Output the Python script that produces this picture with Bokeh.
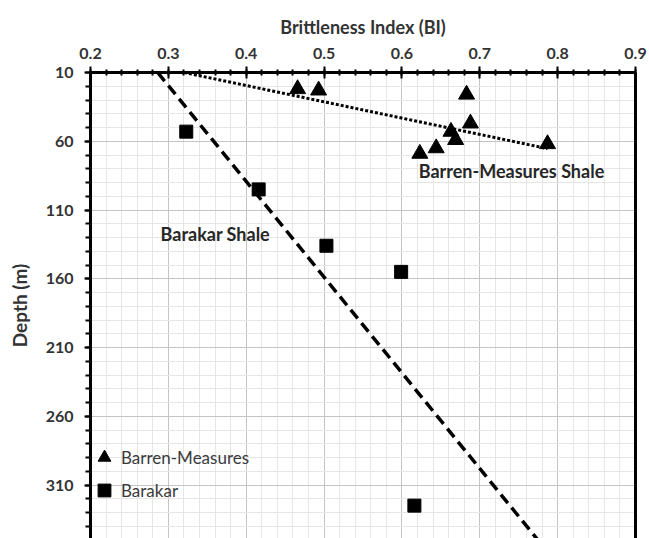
import numpy as np
from bokeh.plotting import figure
from bokeh.models import (Range1d, LinearAxis, FixedTicker, Legend, LegendItem, Label)
from bokeh.embed import file_html
from bokeh.resources import INLINE

# ---- data ----
barren_bi = [0.466, 0.493, 0.683, 0.688, 0.663, 0.669, 0.623, 0.644, 0.787]
barren_depth = [22, 23, 26, 47, 53, 59, 69, 65, 62]

barakar_bi = [0.323, 0.416, 0.503, 0.599, 0.616]
barakar_depth = [53, 95, 136, 155, 325]

x_ticks = [0.2, 0.3, 0.4, 0.5, 0.6, 0.7, 0.8, 0.9]
x_minor = [round(0.2 + 0.02 * i, 2) for i in range(36)]
y_ticks = [10, 60, 110, 160, 210, 260, 310]
y_minor = list(range(10, 360, 10))

FONT = "Lato"
TXT = "#333333"

p = figure(width=649, height=538, output_backend="svg", toolbar_location=None,
           x_range=Range1d(0.2, 0.9), y_range=Range1d(348.9, 10),
           x_axis_location="above",
           min_border_left=90, min_border_right=14, min_border_top=72, min_border_bottom=0)
p.outline_line_color = None
p.background_fill_color = "white"

# top x axis
xa = p.xaxis[0]
xa.ticker = FixedTicker(ticks=x_ticks, minor_ticks=x_minor)
xa.axis_label = "Brittleness Index (BI)"
xa.axis_label_text_font = FONT
xa.axis_label_text_font_style = "bold"
xa.axis_label_text_font_size = "18px"
xa.axis_label_text_color = TXT
xa.axis_label_standoff = 7
xa.major_label_text_font = FONT
xa.major_label_text_font_style = "bold"
xa.major_label_text_font_size = "16px"
xa.major_label_text_color = TXT
xa.major_label_standoff = 8
xa.axis_line_width = 3
xa.axis_line_color = "black"
xa.major_tick_in = 6
xa.major_tick_out = 6
xa.minor_tick_in = 3
xa.minor_tick_out = 3
xa.major_tick_line_width = 2
xa.minor_tick_line_width = 2

# left y axis
ya = p.yaxis[0]
ya.ticker = FixedTicker(ticks=y_ticks, minor_ticks=y_minor)
ya.axis_label = "Depth (m)"
ya.axis_label_text_font = FONT
ya.axis_label_text_font_style = "bold"
ya.axis_label_text_font_size = "19px"
ya.axis_label_text_color = TXT
ya.axis_label_standoff = 12
ya.major_label_text_font = FONT
ya.major_label_text_font_style = "bold"
ya.major_label_text_font_size = "16px"
ya.major_label_text_color = TXT
ya.major_label_standoff = 11
ya.axis_line_width = 3
ya.axis_line_color = "black"
ya.major_tick_in = 0
ya.major_tick_out = 6
ya.minor_tick_in = 0
ya.minor_tick_out = 5
ya.major_tick_line_width = 2
ya.minor_tick_line_width = 2

# right border as an empty axis
ra = LinearAxis(ticker=FixedTicker(ticks=[]), axis_line_width=3, axis_line_color="black",
                major_tick_out=0, major_tick_in=0, minor_tick_out=0, minor_tick_in=0,
                major_label_standoff=0)
p.add_layout(ra, "right")

# grids
p.xgrid.ticker = FixedTicker(ticks=x_ticks, minor_ticks=x_minor)
p.ygrid.ticker = FixedTicker(ticks=y_ticks, minor_ticks=y_minor)
for g in (p.xgrid[0], p.ygrid[0]):
    g.grid_line_color = "#c4c4c4"
    g.grid_line_width = 1
    g.minor_grid_line_color = "#e6e6e6"
    g.minor_grid_line_width = 1

# trend lines (least squares of depth on BI, as in the source chart)
a1, b1 = np.polyfit(barakar_bi, barakar_depth, 1)
bk_line_depth = [10, 360]
bk_line_bi = [(d - b1) / a1 for d in bk_line_depth]
p.line(bk_line_bi, bk_line_depth, line_color="black", line_width=3.5, line_dash="11 6")

a2, b2 = np.polyfit(barren_bi, barren_depth, 1)
bm_line_bi = [(10 - b2) / a2, max(barren_bi)]
bm_line_depth = [a2 * x + b2 for x in bm_line_bi]
p.line(bm_line_bi, bm_line_depth, line_color="black", line_width=3, line_dash="3 2")

# points
r1 = p.scatter(barren_bi, barren_depth, marker="triangle", size=16,
               fill_color="black", line_color="black")
r2 = p.scatter(barakar_bi, barakar_depth, marker="square", size=13,
               fill_color="black", line_color="black")

legend = Legend(items=[LegendItem(label="Barren-Measures", renderers=[r1]),
                       LegendItem(label="Barakar", renderers=[r2])],
                location=(-3, 32), glyph_width=34, glyph_height=32, spacing=1,
                label_standoff=-12, padding=0, margin=0,
                border_line_color=None, background_fill_alpha=0,
                label_text_font=FONT, label_text_font_size="17px",
                label_text_color="#3a3a3a")
p.add_layout(legend)

p.add_layout(Label(x=0.290, y=127.3, text="Barakar Shale", text_font=FONT,
                   text_font_style="bold", text_font_size="18px",
                   text_baseline="middle", text_align="left", text_color="#262626"))
p.add_layout(Label(x=0.6216, y=81.9, text="Barren-Measures Shale", text_font=FONT,
                   text_font_style="bold", text_font_size="18px",
                   text_baseline="middle", text_align="left", text_color="#262626"))

open("out.html", "w").write(file_html(p, INLINE))
